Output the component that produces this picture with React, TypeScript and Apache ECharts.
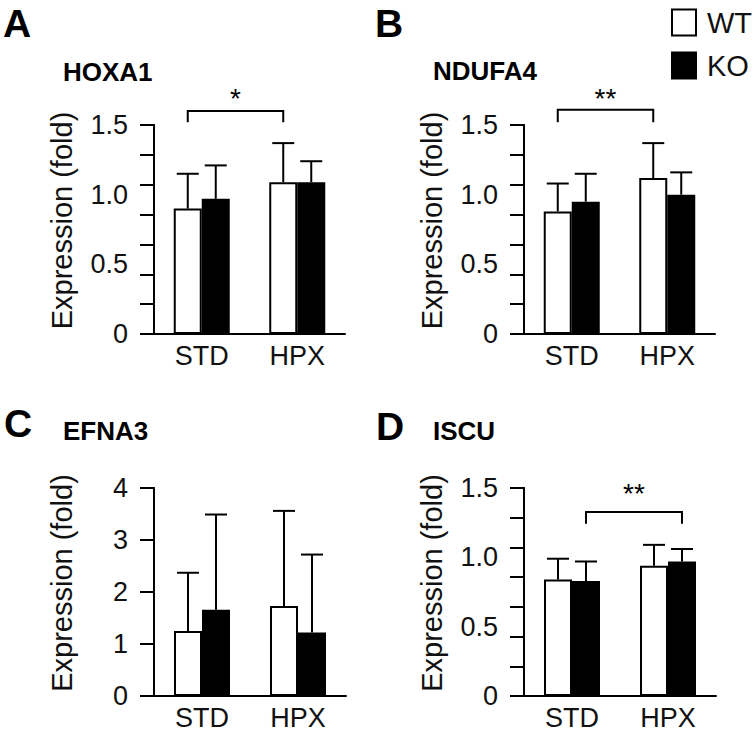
import React, { useEffect, useRef } from 'react';
import * as echarts from 'echarts';

// ---------- data ----------
const categories = ['STD', 'HPX'];
const groupNames = ['WT', 'KO'];

const hoxa1WT = [0.9, 1.09];
const hoxa1WTSd = [0.25, 0.28];
const hoxa1KO = [0.97, 1.09];
const hoxa1KOSd = [0.24, 0.15];

const ndufa4WT = [0.88, 1.12];
const ndufa4WTSd = [0.2, 0.25];
const ndufa4KO = [0.95, 1.0];
const ndufa4KOSd = [0.2, 0.16];

const efna3WT = [1.25, 1.73];
const efna3WTSd = [1.12, 1.83];
const efna3KO = [1.66, 1.22];
const efna3KOSd = [1.83, 1.5];

const iscuWT = [0.84, 0.94];
const iscuWTSd = [0.15, 0.15];
const iscuKO = [0.83, 0.97];
const iscuKOSd = [0.14, 0.09];

// significance brackets: compared group, label, bracket level, drop level, label level
const hoxa1Sig = { group: 'WT', label: '*', level: 1.6, drop: 1.52, text: 1.69 };
const ndufa4Sig = { group: 'WT', label: '**', level: 1.61, drop: 1.52, text: 1.69 };
const iscuSig = { group: 'KO', label: '**', level: 1.327, drop: 1.243, text: 1.46 };

const FONT = '"Liberation Sans", Arial, Helvetica, sans-serif';
const BAR_W = 28;

type Panel = {
  letter: string;
  title: string;
  wt: number[];
  wtSd: number[];
  ko: number[];
  koSd: number[];
  max: number;
  splits: number;
  labelInterval: number;
  grid: { left: number; top: number; width: number; height: number };
  letterPos: [number, number];
  titlePos: [number, number];
  sig: { group: string; label: string; level: number; drop: number; text: number } | null;
};

const panels: Panel[] = [
  {
    letter: 'A', title: 'HOXA1', wt: hoxa1WT, wtSd: hoxa1WTSd, ko: hoxa1KO, koSd: hoxa1KOSd,
    max: 1.5, splits: 7, labelInterval: 0.5,
    grid: { left: 154, top: 125, width: 191, height: 209 },
    letterPos: [3, 23], titlePos: [63, 72], sig: hoxa1Sig,
  },
  {
    letter: 'B', title: 'NDUFA4', wt: ndufa4WT, wtSd: ndufa4WTSd, ko: ndufa4KO, koSd: ndufa4KOSd,
    max: 1.5, splits: 7, labelInterval: 0.5,
    grid: { left: 524, top: 125, width: 191, height: 209 },
    letterPos: [375, 23], titlePos: [433, 71], sig: ndufa4Sig,
  },
  {
    letter: 'C', title: 'EFNA3', wt: efna3WT, wtSd: efna3WTSd, ko: efna3KO, koSd: efna3KOSd,
    max: 4, splits: 4, labelInterval: 1,
    grid: { left: 154, top: 488, width: 192, height: 208 },
    letterPos: [4, 423], titlePos: [63, 431], sig: null,
  },
  {
    letter: 'D', title: 'ISCU', wt: iscuWT, wtSd: iscuWTSd, ko: iscuKO, koSd: iscuKOSd,
    max: 1.5, splits: 7, labelInterval: 0.5,
    grid: { left: 524, top: 488, width: 192, height: 208 },
    letterPos: [376, 426], titlePos: [433, 431], sig: iscuSig,
  },
];

function buildOption() {
  const grid: any[] = [];
  const xAxis: any[] = [];
  const yAxis: any[] = [];
  const series: any[] = [];
  const graphic: any[] = [];

  panels.forEach((p, i) => {
    grid.push({ ...p.grid, containLabel: false });
    xAxis.push({
      type: 'category',
      gridIndex: i,
      data: categories,
      axisLine: { show: true, lineStyle: { color: '#000', width: 2 } },
      axisTick: { show: false },
      axisLabel: { color: '#111', fontSize: 27, fontFamily: FONT, margin: 8 },
      splitLine: { show: false },
    });
    const labelAxisIndex = yAxis.length;
    const decimals = p.labelInterval < 1 ? 1 : 0;
    yAxis.push({
      type: 'value',
      gridIndex: i,
      min: 0,
      max: p.max,
      interval: p.labelInterval,
      position: 'left',
      name: 'Expression (fold)',
      nameLocation: 'middle',
      nameGap: 78,
      nameTextStyle: { color: '#111', fontSize: 29, fontFamily: FONT, padding: [0, 0, 0, 18] },
      axisLine: { show: true, lineStyle: { color: '#000', width: 2 } },
      axisTick: { show: false },
      axisLabel: {
        color: '#111', fontSize: 27, fontFamily: FONT, margin: 26,
        formatter: (v: number) => (v === 0 ? '0' : v.toFixed(decimals)),
      },
      splitLine: { show: false },
    });
    yAxis.push({
      type: 'value',
      gridIndex: i,
      min: 0,
      max: p.splits,
      interval: 1,
      position: 'left',
      offset: 0,
      axisLine: { show: true, lineStyle: { color: '#000', width: 2 } },
      axisTick: { show: true, inside: false, length: 14, lineStyle: { color: '#000', width: 2 } },
      axisLabel: { show: false },
      splitLine: { show: false },
    });

    const groups = [
      { name: 'WT', mean: p.wt, sd: p.wtSd, color: '#ffffff', offset: -BAR_W / 2 },
      { name: 'KO', mean: p.ko, sd: p.koSd, color: '#000000', offset: BAR_W / 2 },
    ];
    groups.forEach((g) => {
      series.push({
        type: 'bar',
        name: g.name,
        xAxisIndex: i,
        yAxisIndex: labelAxisIndex,
        data: g.mean,
        barWidth: BAR_W,
        barGap: '0%',
        itemStyle: { color: g.color, borderColor: '#000', borderWidth: 2 },
        z: 2,
      });
    });
    groups.forEach((g) => {
      series.push({
        type: 'custom',
        name: g.name + ' SD',
        xAxisIndex: i,
        yAxisIndex: labelAxisIndex,
        clip: false,
        z: 3,
        data: g.mean.map((m, k) => [k, m, m + g.sd[k]]),
        renderItem: (params: any, api: any) => {
          const base = api.coord([api.value(0), api.value(1)]);
          const top = api.coord([api.value(0), api.value(2)]);
          const x = base[0] + g.offset;
          const style = { stroke: '#000', lineWidth: 2 };
          return {
            type: 'group',
            children: [
              { type: 'line', shape: { x1: x, y1: base[1], x2: x, y2: top[1] }, style },
              { type: 'line', shape: { x1: x - 11, y1: top[1], x2: x + 11, y2: top[1] }, style },
            ],
          };
        },
      });
    });

    if (p.sig) {
      const s = p.sig;
      const off = s.group === 'WT' ? -BAR_W / 2 : BAR_W / 2;
      series.push({
        type: 'custom',
        name: 'significance',
        xAxisIndex: i,
        yAxisIndex: labelAxisIndex,
        clip: false,
        z: 3,
        data: [[0, 1, s.level, s.drop, s.text]],
        renderItem: (params: any, api: any) => {
          const a = api.coord([api.value(0), api.value(2)]);
          const b = api.coord([api.value(1), api.value(2)]);
          const d = api.coord([api.value(0), api.value(3)]);
          const t = api.coord([api.value(0), api.value(4)]);
          const x1 = a[0] + off;
          const x2 = b[0] + off;
          return {
            type: 'group',
            children: [
              {
                type: 'polyline',
                shape: { points: [[x1, d[1]], [x1, a[1]], [x2, a[1]], [x2, d[1]]] },
                style: { stroke: '#000', lineWidth: 2, fill: 'none' },
              },
              {
                type: 'text',
                x: (x1 + x2) / 2,
                y: t[1],
                style: {
                  text: s.label, fill: '#000', fontSize: 28, fontFamily: FONT,
                  align: 'center', verticalAlign: 'middle',
                },
              },
            ],
          };
        },
      });
    }

    graphic.push({
      type: 'text',
      x: p.letterPos[0],
      y: p.letterPos[1],
      style: {
        text: p.letter, fill: '#000', fontSize: 39, fontWeight: 'bold', fontFamily: FONT,
        align: 'left', verticalAlign: 'middle',
      },
    });
    graphic.push({
      type: 'text',
      x: p.titlePos[0],
      y: p.titlePos[1],
      style: {
        text: p.title, fill: '#000', fontSize: 26, fontWeight: 'bold', fontFamily: FONT,
        align: 'left', verticalAlign: 'middle',
      },
    });
  });

  return {
    animation: false,
    backgroundColor: '#ffffff',
    textStyle: { fontFamily: FONT },
    legend: {
      orient: 'vertical',
      left: 671,
      top: 8,
      padding: 0,
      itemWidth: 24,
      itemHeight: 26,
      itemGap: 14,
      icon: 'rect',
      selectedMode: false,
      textStyle: { color: '#111', fontSize: 29, fontFamily: FONT, padding: [0, 0, 0, 6] },
      data: [
        { name: groupNames[0], itemStyle: { color: '#ffffff', borderColor: '#000', borderWidth: 2 } },
        { name: groupNames[1], itemStyle: { color: '#000000', borderColor: '#000', borderWidth: 2 } },
      ],
    },
    grid,
    xAxis,
    yAxis,
    series,
    graphic,
  };
}

export default function App() {
  const ref = useRef<HTMLDivElement>(null);
  useEffect(() => {
    if (!ref.current) return;
    const chart = echarts.init(ref.current, undefined, { renderer: 'svg' });
    chart.setOption(buildOption() as any);
    return () => chart.dispose();
  }, []);
  return (
    <div
      ref={ref}
      style={{ position: 'fixed', left: 0, top: 0, width: 756, height: 731, background: '#fff' }}
    />
  );
}
